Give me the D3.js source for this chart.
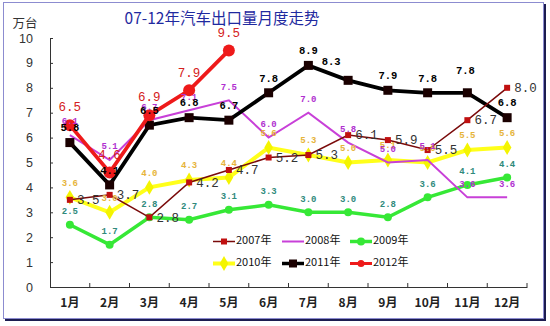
<!DOCTYPE html>
<html>
<head>
<meta charset="utf-8">
<script src="https://cdn.jsdelivr.net/npm/d3@7"></script>
<style>
  body { margin: 0; background: #fff; }
  svg { display: block; }
</style>
</head>
<body>
<div id="chart"></div>
<script>
// month categories
const months = ["1月", "2月", "3月", "4月", "5月", "6月", "7月", "8月", "9月", "10月", "11月", "12月"];
const yTicks = [0, 1, 2, 3, 4, 5, 6, 7, 8, 9, 10];

// monthly exports, 10k units
const v2007 = [3.5, 3.7, 2.8, 4.2, 4.7, 5.2, 5.3, 6.1, 5.9, 5.5, 6.7, 8.0];
const v2008 = [6.1, 5.1, 6.7, 7.1, 7.5, 6.0, 7.0, 5.8, 5.0, 5.1, 3.6, 3.6];
const v2009 = [2.5, 1.7, 2.8, 2.7, 3.1, 3.3, 3.0, 3.0, 2.8, 3.6, 4.1, 4.4];
const v2010 = [3.6, 3.0, 4.0, 4.3, 4.4, 5.6, 5.3, 5.0, 5.1, 5.0, 5.5, 5.6];
const v2011 = [5.8, 4.1, 6.5, 6.8, 6.7, 7.8, 8.9, 8.3, 7.9, 7.8, 7.8, 6.8];
const v2012 = [6.5, 4.6, 6.9, 7.9, 9.5];

const seriesNames = ["2007年", "2008年", "2009年", "2010年", "2011年", "2012年"];

const W = 550, H = 326;
const svg = d3.select("#chart").append("svg")
    .attr("width", W)
    .attr("height", H);

// frame with dark shadow on the bottom/right
svg.append("rect")
    .attr("x", 5).attr("y", 4).attr("width", 541).attr("height", 317)
    .attr("fill", "#1c1c50");
svg.append("rect")
    .attr("x", 3.5).attr("y", 2.5).attr("width", 540).attr("height", 316)
    .attr("fill", "#fff").attr("stroke", "#8c8cd0").attr("stroke-width", 1);

const plot = { left: 50, right: 527, top: 38, bottom: 287 };

const x = d3.scaleBand()
    .domain(months)
    .range([plot.left, plot.right]);
const y = d3.scaleLinear()
    .domain([0, 10])
    .range([plot.bottom, plot.top]);
const cx = m => x(m) + x.bandwidth() / 2;

// title and unit
svg.append("text")
    .attr("x", 222).attr("y", 20)
    .attr("text-anchor", "middle").attr("dominant-baseline", "middle")
    .style("font-family", "'Noto Sans CJK SC', sans-serif")
    .style("font-size", "15.5px")
    .attr("fill", "#1f2aa0")
    .text("07-12年汽车出口量月度走势");

svg.append("text")
    .attr("x", 25).attr("y", 25)
    .attr("text-anchor", "middle").attr("dominant-baseline", "middle")
    .style("font-family", "'Noto Sans CJK SC', sans-serif")
    .style("font-size", "12.5px")
    .attr("fill", "#333")
    .text("万台");

// y axis
const yAxis = svg.append("g")
    .attr("transform", `translate(${plot.left},0)`)
    .call(d3.axisLeft(y).tickValues(yTicks).tickSize(-3).tickPadding(17).tickSizeOuter(0));
yAxis.select(".domain").attr("stroke", "#333");
yAxis.selectAll(".tick line").attr("stroke", "#333");
yAxis.selectAll("text")
    .style("font-family", "'Liberation Sans', Arial, sans-serif")
    .style("font-size", "12.5px")
    .attr("fill", "#333");

// x axis, ticks on band boundaries pointing up
const xAxis = svg.append("g")
    .attr("transform", `translate(0,${plot.bottom})`)
    .call(d3.axisBottom(x).tickSize(0).tickPadding(11));
xAxis.select(".domain").attr("stroke", "#333");
xAxis.selectAll("text")
    .style("font-family", "'Noto Sans CJK SC', sans-serif")
    .style("font-size", "12px")
    .style("font-weight", "bold")
    .attr("fill", "#222");
xAxis.selectAll(".bound")
    .data(months)
    .enter().append("line")
    .attr("x1", d => x(d) + x.bandwidth()).attr("x2", d => x(d) + x.bandwidth())
    .attr("y1", 0).attr("y2", -4)
    .attr("stroke", "#333");

const line = d3.line()
    .x((d, i) => cx(months[i]))
    .y(d => y(d));

function drawLine(vals, color, width) {
    svg.append("path")
        .datum(vals)
        .attr("d", line)
        .attr("fill", "none")
        .attr("stroke", color)
        .attr("stroke-width", width)
        .attr("stroke-linejoin", "miter");
}

function drawMarkers(vals, shape, size, color) {
    const g = svg.append("g");
    vals.forEach((v, i) => {
        const px = cx(months[i]), py = y(v);
        if (shape === "square") {
            g.append("rect")
                .attr("x", px - size / 2).attr("y", py - size / 2)
                .attr("width", size).attr("height", size)
                .attr("fill", color);
        } else if (shape === "circle") {
            g.append("circle")
                .attr("cx", px).attr("cy", py).attr("r", size / 2)
                .attr("fill", color);
        } else {
            g.append("path")
                .attr("d", d3.symbol(d3.symbolDiamond, size * size).call())
                .attr("transform", `translate(${px},${py})`)
                .attr("fill", color);
        }
    });
}

// opts.nudge: optional per-month label shift {index: [dx, dy]}
function drawLabels(vals, opts) {
    const nudge = opts.nudge || {};
    svg.append("g").selectAll("text")
        .data(vals)
        .enter().append("text")
        .attr("x", (d, i) => cx(months[i]) + (opts.dx || 0) + (nudge[i] ? nudge[i][0] : 0))
        .attr("y", (d, i) => y(d) + opts.dy + (nudge[i] ? nudge[i][1] : 0))
        .attr("text-anchor", opts.anchor || "middle")
        .attr("dominant-baseline", "middle")
        .style("font-family", opts.font)
        .style("font-size", opts.size)
        .style("font-weight", opts.weight || "normal")
        .attr("fill", opts.color)
        .text(d => d.toFixed(1));
}

// lines (back to front)
drawLine(v2009, "#36e836", 3.5);
drawMarkers(v2009, "circle", 8, "#36e836");
drawLine(v2010, "#ffff1a", 4);
drawMarkers(v2010, "diamond", 8, "#f4f400");
drawLine(v2008, "#c840d8", 2);
drawLine(v2011, "#000", 3.8);
drawMarkers(v2011, "square", 9, "#1a0000");
drawLine(v2012, "#ee1a1a", 3.8);
drawMarkers(v2012, "circle", 12, "#ee1a1a");
drawLine(v2007, "#7a0a0a", 1.5);
drawMarkers(v2007, "square", 6, "#c01010");

// value labels
const mono = "'Liberation Mono', 'DejaVu Sans Mono', monospace";
drawLabels(v2009, { dy: -13, font: mono, size: "9px", weight: "bold", color: "#2f8a7c" });
drawLabels(v2010, { dy: -14, font: mono, size: "9px", weight: "bold", color: "#e6b43a" });
drawLabels(v2008, { dy: -13, font: mono, size: "9px", weight: "bold", color: "#b030d0" });
drawLabels(v2011, { dy: -14, font: mono, size: "10.5px", weight: "bold", color: "#000",
    nudge: { 7: [-17, -4], 10: [-2, -8] } });
drawLabels(v2012, { dy: -17, font: mono, size: "12.5px", weight: "normal", color: "#d42020" });
drawLabels(v2007, { dx: 7, dy: 1, anchor: "start", font: mono, size: "12.5px", color: "#333" });

// legend
const legendItems = [
    { name: seriesNames[0], color: "#7a0a0a", width: 1.5, mark: "square", mcolor: "#c01010", msize: 6 },
    { name: seriesNames[1], color: "#c840d8", width: 2, mark: null },
    { name: seriesNames[2], color: "#36e836", width: 3.5, mark: "circle", mcolor: "#36e836", msize: 8 },
    { name: seriesNames[3], color: "#ffff1a", width: 4, mark: "diamond", mcolor: "#f4f400", msize: 8 },
    { name: seriesNames[4], color: "#000", width: 3.5, mark: "square", mcolor: "#1a0000", msize: 8 },
    { name: seriesNames[5], color: "#ee1a1a", width: 3, mark: "circle", mcolor: "#ee1a1a", msize: 7 }
];
const legCols = [213, 282, 350];
const legRows = [241.5, 263.5];

const legend = svg.append("g");
legendItems.forEach((it, i) => {
    const lx = legCols[i % 3], ly = legRows[Math.floor(i / 3)];
    const g = legend.append("g").attr("transform", `translate(${lx},${ly})`);
    g.append("line")
        .attr("x1", 0).attr("x2", 22).attr("y1", 0).attr("y2", 0)
        .attr("stroke", it.color).attr("stroke-width", it.width);
    if (it.mark === "square") {
        g.append("rect")
            .attr("x", 11 - it.msize / 2).attr("y", -it.msize / 2)
            .attr("width", it.msize).attr("height", it.msize)
            .attr("fill", it.mcolor);
    } else if (it.mark === "circle") {
        g.append("circle").attr("cx", 11).attr("cy", 0).attr("r", it.msize / 2).attr("fill", it.mcolor);
    } else if (it.mark === "diamond") {
        g.append("path")
            .attr("d", d3.symbol(d3.symbolDiamond, it.msize * it.msize).call())
            .attr("transform", "translate(11,0)")
            .attr("fill", it.mcolor);
    }
    g.append("text")
        .attr("x", 23).attr("y", 0)
        .attr("dominant-baseline", "middle")
        .style("font-family", "'Noto Sans CJK SC', sans-serif")
        .style("font-size", "11px")
        .attr("fill", "#111")
        .text(it.name);
});
</script>
</body>
</html>
